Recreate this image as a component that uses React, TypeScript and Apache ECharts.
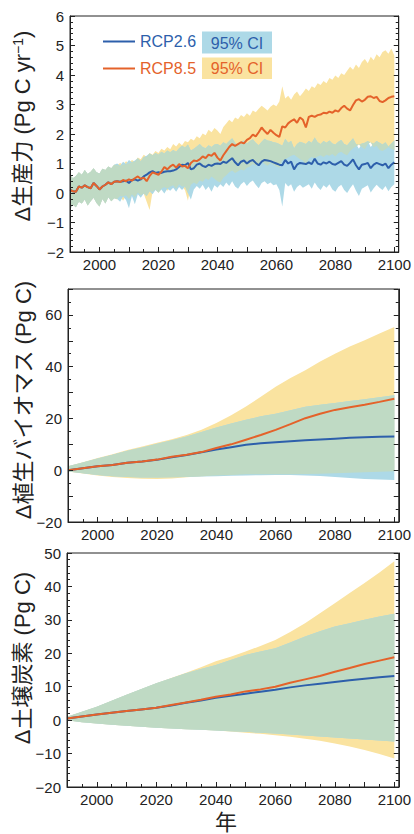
import React, { useEffect, useRef } from 'react';
import * as echarts from 'echarts';

// ---------- x values ----------
const YEARS_ANNUAL: number[] = Array.from({ length: 111 }, (_, i) => 1990 + i);
const YEARS_5: number[] = Array.from({ length: 23 }, (_, i) => 1990 + 5 * i);

// ---------- Panel 1: Δ生産力 (annual) ----------
const rcp85Mean1 = [
  0.10, 0.06, 0.04, 0.22, 0.18, 0.26, 0.20, 0.16, 0.34, 0.24,
  0.12, 0.22, 0.28, 0.36, 0.30, 0.38, 0.40, 0.37, 0.44, 0.40,
  0.46, 0.42, 0.50, 0.56, 0.48, 0.52, 0.40, 0.58, 0.70, 0.66,
  0.62, 0.72, 0.88, 0.80, 0.90, 0.96, 0.86, 0.98, 0.90, 0.92,
  0.84, 1.02, 1.10, 1.08, 1.14, 1.24, 1.18, 1.30, 1.26, 1.36,
  1.20, 1.10, 1.28, 1.42, 1.56, 1.66, 1.60, 1.66, 1.72, 1.68,
  1.80, 1.86, 1.98, 1.92, 2.06, 2.22, 2.10, 2.00, 2.14, 2.04,
  1.96, 1.90, 2.26, 2.22, 2.36, 2.44, 2.50, 2.38, 2.56, 2.48,
  2.22, 2.58, 2.62, 2.58, 2.64, 2.66, 2.72, 2.70, 2.76, 2.72,
  2.80, 2.76, 2.88, 2.96, 2.86, 2.80, 2.98, 3.14, 3.18, 3.10,
  3.16, 3.26, 3.28, 3.22, 3.26, 3.12, 3.08, 3.14, 3.22, 3.26,
  3.28,
];
const rcp26Mean1 = [
  0.10, 0.06, 0.04, 0.22, 0.18, 0.26, 0.20, 0.16, 0.34, 0.24,
  0.12, 0.22, 0.28, 0.36, 0.30, 0.38, 0.40, 0.38, 0.40, 0.42,
  0.34, 0.44, 0.46, 0.42, 0.46, 0.56, 0.62, 0.70, 0.74, 0.68,
  0.70, 0.68, 0.72, 0.74, 0.74, 0.76, 0.80, 0.88, 0.96, 0.94,
  1.02, 0.80, 0.84, 0.96, 1.00, 0.92, 0.88, 0.96, 0.92, 0.98,
  1.00, 0.98, 1.06, 1.02, 1.10, 1.18, 1.04, 0.94, 1.06, 1.10,
  1.00, 1.08, 1.12, 1.02, 0.94, 1.06, 1.12, 1.10, 1.08, 1.04,
  1.00, 0.96, 0.94, 1.12, 1.00, 1.06, 0.80, 0.96, 1.02, 1.00,
  0.98, 1.04, 0.98, 1.16, 1.00, 0.96, 1.04, 1.00, 1.06, 0.98,
  0.96, 1.02, 1.08, 0.96, 0.92, 1.02, 1.14, 0.94, 0.80, 0.96,
  0.98, 1.02, 0.84, 0.96, 1.02, 0.98, 0.94, 1.00, 0.84, 0.96,
  1.04,
];
const rcp26Lo1 = [
  -0.55, -0.40, -0.48, -0.30, -0.36, -0.22, -0.42, -0.28, -0.16, -0.34,
  -0.46, -0.20, -0.36, -0.14, -0.28, -0.18, -0.20, -0.30, -0.12, -0.24,
  -0.52, -0.10, -0.38, -0.04, -0.16, -0.02, -0.10, 0.06, -0.04, 0.10,
  0.02, 0.12, -0.02, 0.14, 0.08, 0.18, 0.04, 0.20, 0.10, 0.22,
  0.00, -0.22, 0.12, 0.24, 0.14, 0.28, 0.10, 0.22, 0.04, 0.26,
  0.18, 0.30, 0.20, 0.36, 0.24, 0.40, 0.22, 0.14, 0.30, 0.38,
  0.24, 0.36, 0.42, 0.28, 0.16, 0.34, 0.40, 0.30, 0.36, 0.26,
  0.30, 0.10, -0.46, 0.34, 0.22, 0.30, 0.04, 0.20, 0.28, 0.18,
  0.24, 0.30, 0.14, 0.36, 0.20, 0.10, 0.26, 0.18, 0.30, 0.12,
  0.04, 0.20, 0.28, 0.10, 0.00, 0.16, 0.30, 0.08, -0.10, 0.14,
  0.20, 0.26, 0.02, 0.16, 0.28, 0.18, 0.10, 0.24, 0.06, 0.20,
  0.30,
];
const rcp26Hi1 = [
  0.62, 0.50, 0.58, 0.70, 0.62, 0.78, 0.64, 0.72, 0.84, 0.70,
  0.66, 0.82, 0.78, 0.90, 0.84, 0.96, 1.00, 0.92, 1.06, 0.98,
  1.12, 1.04, 1.10, 1.18, 1.08, 1.22, 1.26, 1.34, 1.28, 1.36,
  1.30, 1.40, 1.34, 1.44, 1.38, 1.46, 1.40, 1.52, 1.60, 1.54,
  1.64, 1.44, 1.50, 1.58, 1.66, 1.56, 1.52, 1.62, 1.56, 1.64,
  1.66, 1.60, 1.72, 1.66, 1.76, 1.86, 1.70, 1.60, 1.74, 1.78,
  1.68, 1.76, 1.82, 1.70, 1.62, 1.74, 1.84, 1.78, 1.76, 1.72,
  1.70, 1.66, 1.60, 1.84, 1.70, 1.76, 1.52, 1.66, 1.74, 1.70,
  1.66, 1.76, 1.70, 1.88, 1.72, 1.66, 1.76, 1.70, 1.78, 1.68,
  1.64, 1.74, 1.80, 1.66, 1.62, 1.74, 1.86, 1.66, 1.50, 1.68,
  1.70, 1.76, 1.56, 1.68, 1.76, 1.70, 1.64, 1.72, 1.58, 1.68,
  1.78,
];
const rcp85Lo1 = [
  -0.55, -0.40, -0.48, -0.30, -0.36, -0.22, -0.42, -0.28, -0.16, -0.34,
  -0.46, -0.20, -0.36, -0.14, -0.28, -0.18, -0.22, -0.10, -0.26, -0.08,
  -0.20, -0.04, -0.14, 0.02, -0.08, -0.02, -0.30, -0.58, 0.04, 0.12,
  0.00, 0.14, 0.20, 0.08, 0.22, 0.26, 0.14, 0.30, 0.22, 0.10,
  -0.26, 0.28, 0.36, 0.30, 0.42, 0.38, 0.50, 0.44, 0.56, 0.48,
  0.40, 0.36, 0.52, 0.60, 0.70, 0.76, 0.68, 0.74, 0.80, 0.76,
  0.86, 0.90, 0.98, 0.92, 1.00, 1.08, 0.98, 0.92, 1.02, 0.96,
  0.90, 0.86, 1.10, 1.14, 1.20, 1.26, 1.30, 1.22, 1.14, 1.10,
  0.96, 1.16, 1.22, 1.18, 1.24, 1.28, 1.22, 1.30, 1.26, 1.32,
  1.24, 1.36, 1.40, 1.32, 1.28, 1.42, 1.52, 1.58, 1.64, 1.56,
  1.48, 1.66, 1.72, 1.54, 1.60, 1.46, 1.42, 1.48, 1.56, 1.50,
  1.46,
];
const rcp85Hi1 = [
  0.62, 0.50, 0.58, 0.70, 0.62, 0.78, 0.64, 0.72, 0.84, 0.70,
  0.66, 0.82, 0.78, 0.90, 0.84, 0.96, 0.94, 1.02, 0.96, 1.08,
  1.00, 1.12, 1.06, 1.20, 1.14, 1.30, 1.22, 1.36, 1.30, 1.42,
  1.36, 1.50, 1.44, 1.56, 1.48, 1.66, 1.58, 1.70, 1.62, 1.76,
  1.72, 1.84, 1.78, 1.92, 1.86, 2.02, 1.96, 2.14, 2.06, 2.20,
  2.12, 2.00, 2.24, 2.36, 2.48, 2.40, 2.56, 2.50, 2.64, 2.58,
  2.70, 2.62, 2.80, 2.74, 2.86, 2.96, 2.88, 2.80, 2.92, 3.00,
  2.94, 3.10, 3.62, 3.20, 3.30, 3.16, 3.34, 3.44, 3.28, 3.40,
  3.54, 3.46, 3.62, 3.56, 3.72, 3.66, 3.80, 3.72, 3.90, 3.84,
  3.98, 3.90, 4.06, 4.00, 4.14, 4.28, 4.18, 4.36, 4.24, 4.44,
  4.54, 4.40, 4.62, 4.50, 4.70, 4.60, 4.78, 4.84, 4.72, 4.90,
  4.66,
];

// ---------- Panel 2: Δ植生バイオマス (5-yearly) ----------
const rcp85Mean2 = [0.0, 0.8, 1.5, 2.0, 2.9, 3.4, 4.1, 5.2, 6.0, 7.0, 8.6, 10.0, 11.8, 13.6, 15.6, 17.8, 20.1, 21.8, 23.3, 24.3, 25.3, 26.4, 27.6];
const rcp26Mean2 = [0.0, 0.8, 1.5, 2.0, 2.9, 3.4, 4.0, 5.0, 5.9, 6.9, 8.0, 8.9, 9.8, 10.4, 10.8, 11.2, 11.6, 11.9, 12.2, 12.5, 12.7, 12.9, 13.0];
const rcp26Lo2 = [-0.5, -1.2, -1.8, -2.3, -2.6, -2.8, -2.8, -2.7, -2.6, -2.4, -2.3, -2.1, -2.0, -1.9, -1.8, -1.8, -2.0, -2.2, -2.6, -3.0, -3.4, -3.6, -3.8];
const rcp26Hi2 = [1.5, 3.0, 4.5, 6.0, 7.5, 8.8, 10.2, 11.6, 13.0, 14.8, 16.5, 18.0, 19.5, 20.8, 21.8, 23.2, 24.5, 25.3, 26.0, 26.7, 27.4, 28.2, 29.0];
const rcp85Lo2 = [-0.5, -1.3, -2.0, -2.6, -3.0, -3.3, -3.4, -3.2, -2.7, -2.3, -2.0, -1.8, -1.6, -1.6, -1.6, -1.6, -1.5, -1.4, -1.2, -1.0, -0.8, -0.6, -0.4];
const rcp85Hi2 = [1.5, 3.1, 4.7, 6.2, 7.8, 9.2, 10.6, 12.0, 13.6, 15.6, 18.2, 21.2, 24.6, 28.4, 32.2, 35.6, 38.6, 42.0, 45.0, 47.8, 50.2, 52.8, 55.3];

// ---------- Panel 3: Δ土壌炭素 (5-yearly) ----------
const rcp85Mean3 = [0.5, 1.1, 1.7, 2.2, 2.7, 3.2, 3.7, 4.5, 5.3, 6.1, 7.0, 7.7, 8.6, 9.2, 10.0, 11.2, 12.2, 13.2, 14.5, 15.6, 16.8, 17.8, 18.8];
const rcp26Mean3 = [0.5, 1.1, 1.7, 2.2, 2.7, 3.2, 3.7, 4.4, 5.2, 5.9, 6.7, 7.3, 7.9, 8.5, 9.1, 9.8, 10.4, 10.9, 11.4, 11.9, 12.4, 12.8, 13.2];
const rcp26Lo3 = [0.0, -0.6, -1.0, -1.4, -1.7, -2.0, -2.3, -2.5, -2.7, -2.9, -3.1, -3.3, -3.5, -3.8, -4.0, -4.3, -4.6, -4.9, -5.2, -5.5, -5.8, -6.1, -6.4];
const rcp26Hi3 = [1.0, 2.5, 4.0, 5.8, 7.6, 9.3, 11.0, 12.5, 14.0, 15.3, 16.5, 18.0, 19.5, 20.5, 21.5, 23.2, 25.0, 26.6, 28.0, 29.0, 30.0, 31.0, 31.8];
const rcp85Lo3 = [0.0, -0.6, -1.0, -1.4, -1.7, -2.0, -2.3, -2.5, -2.7, -2.9, -3.1, -3.4, -3.8, -4.1, -4.5, -5.0, -5.6, -6.2, -7.0, -7.9, -8.9, -10.1, -11.5];
const rcp85Hi3 = [1.0, 2.5, 4.0, 5.8, 7.6, 9.3, 11.0, 12.6, 14.2, 15.8, 17.6, 19.0, 20.5, 22.2, 24.0, 26.4, 29.0, 32.0, 35.0, 38.0, 41.0, 44.2, 47.5];

// ---------- labels ----------
const TITLES = ['Δ生産力 (Pg C yr{sup|−1})', 'Δ植生バイオマス (Pg C)', 'Δ土壌炭素 (Pg C)'];
const X_TITLE = '年';
const LEGEND_NAMES = ['RCP2.6', 'RCP8.5'];
const CI_LABEL = '95% CI';

// ---------- styles ----------
const FONT = "'Liberation Sans', Arial, 'Noto Sans CJK JP', sans-serif";
const INK = '#222';
const C_BLUE = '#2d5fab';
const C_ORANGE = '#e4622a';
const F_BLUE = '#add9e7';
const F_YELLOW = '#fae3a0';
const F_GREEN = '#bfdac4';

const pairs = (xs: number[], ys: number[]) => xs.map((x, i) => [x, ys[i]]);

// Band drawn as one polygon, every vertex placed through the axes (api.coord)
function band(gi: number, xs: number[], lo: number[], hi: number[], color: string) {
  return {
    type: 'custom',
    xAxisIndex: gi,
    yAxisIndex: gi * 2,
    silent: true,
    clip: true,
    data: xs.map((x, i) => [x, lo[i], hi[i]]),
    encode: { x: 0, y: [1, 2] },
    renderItem: (params: any, api: any) => {
      if (params.dataIndex !== 0) return null;
      const top = xs.map((x, i) => api.coord([x, hi[i]]));
      const bottom = xs.map((x, i) => api.coord([x, lo[i]])).reverse();
      return {
        type: 'polygon',
        shape: { points: top.concat(bottom) },
        style: { fill: color, stroke: 'none' },
      };
    },
  };
}

function panelSeries(gi: number, xs: number[], m26: number[], m85: number[], lo26: number[], hi26: number[], lo85: number[], hi85: number[]) {
  const loOv = lo26.map((v, i) => Math.max(v, lo85[i]));
  const hiOv = hi26.map((v, i) => Math.max(loOv[i], Math.min(v, hi85[i])));
  const line = (name: string, ys: number[], color: string) => ({
    type: 'line',
    name,
    xAxisIndex: gi,
    yAxisIndex: gi * 2,
    data: pairs(xs, ys),
    symbol: 'none',
    silent: true,
    lineStyle: { color, width: 2 },
  });
  return [
    band(gi, xs, lo85, hi85, F_YELLOW),
    band(gi, xs, lo26, hi26, F_BLUE),
    band(gi, xs, loOv, hiOv, F_GREEN),
    line(LEGEND_NAMES[0], m26, C_BLUE),
    line(LEGEND_NAMES[1], m85, C_ORANGE),
  ];
}

const GRIDS = [
  { left: 70, top: 16, width: 334, height: 236 },
  { left: 68, top: 289, width: 335, height: 233 },
  { left: 67, top: 553, width: 337, height: 234 },
];
const Y_AXES = [
  { min: -2, max: 6, interval: 1, minor: 5, every: 1 },
  { min: -20, max: 70, interval: 10, minor: 2, every: 20 },
  { min: -20, max: 50, interval: 10, minor: 5, every: 10 },
];
const TITLE_POS = [
  { x: 22, y: 126 },
  { x: 23, y: 400 },
  { x: 22, y: 658 },
];

const fmtNum = (v: number) => (v < 0 ? '\u2212' + Math.abs(v) : String(v));

export default function App() {
  const ref = useRef<HTMLDivElement>(null);
  useEffect(() => {
    if (!ref.current) return;
    const chart = echarts.init(ref.current, null, { renderer: 'svg' });

    const tickLine = { color: INK, width: 1 };
    const xAxis = GRIDS.map((_, gi) => ({
      gridIndex: gi,
      type: 'value',
      position: 'bottom',
      min: 1990,
      max: 2101.5,
      interval: 10,
      z: 10,
      axisLine: { show: true, onZero: false, lineStyle: tickLine },
      axisTick: { show: true, inside: true, length: 5, lineStyle: tickLine },
      minorTick: { show: true, splitNumber: 2, length: 3, lineStyle: tickLine },
      splitLine: { show: false },
      minorSplitLine: { show: false },
      axisLabel: {
        margin: 5,
        fontSize: 15,
        fontFamily: FONT,
        color: INK,
        formatter: (v: number) => (v % 20 === 0 && v >= 2000 && v <= 2100 ? String(v) : ''),
      },
    }));
    const yAxis: any[] = [];
    Y_AXES.forEach((ya, gi) => {
      const base = {
        gridIndex: gi,
        type: 'value',
        min: ya.min,
        max: ya.max,
        interval: ya.interval,
        z: 10,
        axisLine: { show: true, onZero: false, lineStyle: tickLine },
        axisTick: { show: true, inside: true, length: 5, lineStyle: tickLine },
        minorTick: { show: true, splitNumber: ya.minor, length: 3, lineStyle: tickLine },
        splitLine: { show: false },
        minorSplitLine: { show: false },
      };
      yAxis.push({
        ...base,
        position: 'left',
        axisLabel: {
          margin: 6,
          fontSize: 15,
          fontFamily: FONT,
          color: INK,
          formatter: (v: number) => {
            const r = Math.round(v);
            if (Math.abs(r - v) > 1e-9) return '';
            if ((r - ya.min) % ya.every !== 0) return '';
            return fmtNum(r);
          },
        },
      });
      yAxis.push({ ...base, position: 'right', axisLabel: { show: false } });
    });

    const series: any[] = [
      ...panelSeries(0, YEARS_ANNUAL, rcp26Mean1, rcp85Mean1, rcp26Lo1, rcp26Hi1, rcp85Lo1, rcp85Hi1),
      ...panelSeries(1, YEARS_5, rcp26Mean2, rcp85Mean2, rcp26Lo2, rcp26Hi2, rcp85Lo2, rcp85Hi2),
      ...panelSeries(2, YEARS_5, rcp26Mean3, rcp85Mean3, rcp26Lo3, rcp26Hi3, rcp85Lo3, rcp85Hi3),
    ];

    const graphic: any[] = [];
    TITLES.forEach((t, i) => {
      graphic.push({
        type: 'text',
        x: TITLE_POS[i].x,
        y: TITLE_POS[i].y,
        rotation: Math.PI / 2,
        z: 20,
        style: {
          text: t,
          fill: INK,
          fontSize: 22,
          fontFamily: FONT,
          align: 'center',
          verticalAlign: 'middle',
          textAlign: 'center',
          textVerticalAlign: 'middle',
          rich: { sup: { fontSize: 14, fontFamily: FONT, verticalAlign: 'top', fill: INK } },
        },
      });
    });
    graphic.push({
      type: 'text',
      x: 226,
      y: 822,
      z: 20,
      style: {
        text: X_TITLE,
        fill: INK,
        fontSize: 22,
        fontFamily: FONT,
        align: 'center',
        verticalAlign: 'middle',
        textAlign: 'center',
        textVerticalAlign: 'middle',
      },
    });
    // legend
    const legendRows = [
      { y: 41.5, line: C_BLUE, box: F_BLUE, boxY: 31.5, boxH: 22, name: LEGEND_NAMES[0] },
      { y: 68.5, line: C_ORANGE, box: F_YELLOW, boxY: 57.5, boxH: 21.5, name: LEGEND_NAMES[1] },
    ];
    legendRows.forEach((r) => {
      graphic.push({ type: 'line', z: 20, shape: { x1: 103, y1: r.y, x2: 135, y2: r.y }, style: { stroke: r.line, lineWidth: 2 } });
      graphic.push({
        type: 'text', x: 140, y: r.y, z: 20,
        style: { text: r.name, fill: r.line, fontSize: 16, fontFamily: FONT, align: 'left', verticalAlign: 'middle', textAlign: 'left', textVerticalAlign: 'middle' },
      });
      graphic.push({ type: 'rect', z: 19, shape: { x: 202, y: r.boxY, width: 70, height: r.boxH }, style: { fill: r.box } });
      graphic.push({
        type: 'text', x: 237, y: r.boxY + r.boxH / 2 + 0.5, z: 20,
        style: { text: CI_LABEL, fill: r.line, fontSize: 16, fontFamily: FONT, align: 'center', verticalAlign: 'middle', textAlign: 'center', textVerticalAlign: 'middle' },
      });
    });

    chart.setOption({
      animation: false,
      backgroundColor: '#fff',
      grid: GRIDS.map((g) => ({ ...g, show: true, borderColor: INK, borderWidth: 1, backgroundColor: 'transparent', containLabel: false })),
      xAxis,
      yAxis,
      series,
      graphic,
    });
    return () => chart.dispose();
  }, []);
  return <div ref={ref} style={{ position: 'fixed', left: 0, top: 0, width: 414, height: 834 }} />;
}
